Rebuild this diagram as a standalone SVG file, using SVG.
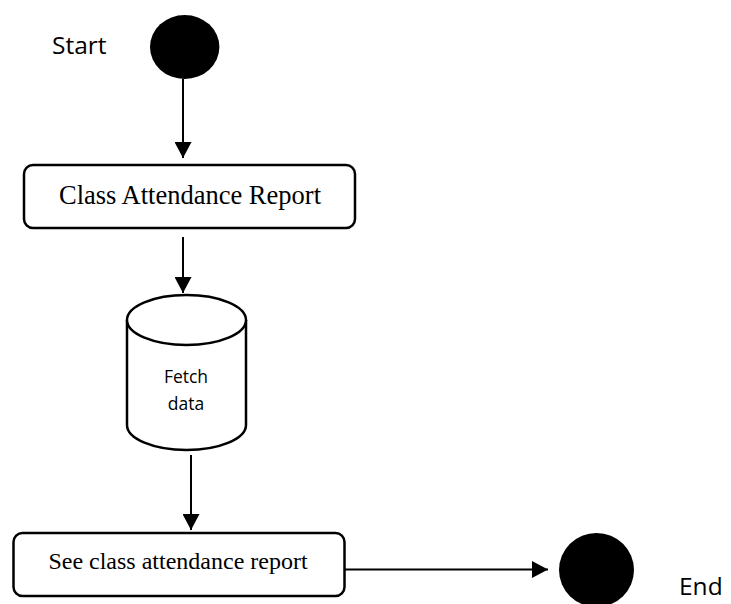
<svg xmlns="http://www.w3.org/2000/svg" width="731" height="604" viewBox="0 0 731 604">
  <style>
    .label { font-family: "Open Sans", "Liberation Sans", sans-serif; fill: #000; }
    .action { fill: #fff; stroke: #000; stroke-width: 2.5; }
    .action-text { font-family: "Liberation Serif", "Times New Roman", serif; fill: #000; text-anchor: middle; }
    .flow { stroke: #000; stroke-width: 2; fill: none; marker-end: url(#arrow); }
    .store { fill: #fff; stroke: #000; stroke-width: 2.5; }
  </style>
  <defs>
    <marker id="arrow" markerUnits="userSpaceOnUse" markerWidth="17" markerHeight="17" refX="16" refY="8.5" orient="auto">
      <path d="M0,0 L16,8.5 L0,17 z" fill="#000"/>
    </marker>
  </defs>

  <rect width="731" height="604" fill="#fff"/>

  <!-- connectors -->
  <g id="connectors">
    <line class="flow" x1="183" y1="79" x2="183" y2="158"/>
    <line class="flow" x1="183" y1="237" x2="183" y2="293"/>
    <line class="flow" x1="191" y1="455" x2="191" y2="530"/>
    <line class="flow" x1="345" y1="569.5" x2="548" y2="569.5"/>
  </g>

  <!-- initial node -->
  <g id="start">
    <ellipse cx="184.7" cy="47" rx="34.7" ry="32" fill="#000"/>
    <text class="label" x="52" y="54" font-size="24.5">Start</text>
  </g>

  <!-- action: class attendance report -->
  <g id="class-attendance-report">
    <rect class="action" x="24" y="165" width="331" height="63" rx="9"/>
    <text class="action-text" x="190" y="204" font-size="26.5">Class Attendance Report</text>
  </g>

  <!-- data store: fetch data -->
  <g id="fetch-data">
    <path class="store" d="M127,320 L127,425 A59.5,25 0 0 0 246,425 L246,320"/>
    <ellipse class="store" cx="186.5" cy="320" rx="59.5" ry="25"/>
    <text class="label" x="186" y="383" font-size="17.5" text-anchor="middle">Fetch</text>
    <text class="label" x="186" y="410" font-size="17.5" text-anchor="middle">data</text>
  </g>

  <!-- action: see class attendance report -->
  <g id="see-class-attendance-report">
    <rect class="action" x="13.5" y="533" width="331" height="63" rx="9"/>
    <text class="action-text" x="178" y="569" font-size="24">See class attendance report</text>
  </g>

  <!-- final node -->
  <g id="end">
    <ellipse cx="596.5" cy="570" rx="37.5" ry="37" fill="#000"/>
    <text class="label" x="679" y="595" font-size="24.5">End</text>
  </g>
</svg>
